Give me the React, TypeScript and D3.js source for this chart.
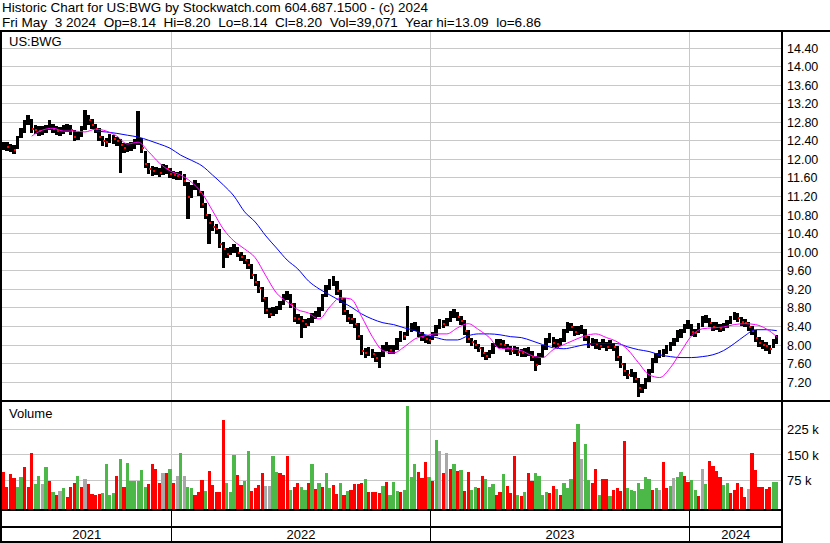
import React, { useEffect, useRef } from 'react';
import * as d3 from 'd3';

// one entry every 5 calendar days from 4 May 2021
const closes = [
  12.28, 12.30, 12.25, 12.25, 12.20, 12.45, 12.58, 12.77, 12.86, 12.64,
  12.62, 12.60, 12.62, 12.66, 12.75, 12.64, 12.60, 12.60, 12.64, 12.66,
  12.62, 12.47, 12.49, 12.60, 12.88, 12.83, 12.73, 12.64, 12.47, 12.38,
  12.36, 12.45, 12.43, 12.38, 12.30, 12.23, 12.25, 12.28, 12.32, 12.40,
  12.23, 11.89, 11.78, 11.74, 11.74, 11.69, 11.80, 11.78, 11.67, 11.65,
  11.63, 11.65, 11.52, 11.18, 11.35, 11.46, 11.29, 11.03, 10.79, 10.62,
  10.53, 10.49, 10.17, 10.06, 9.95, 10.02, 10.08, 9.97, 9.89, 9.82,
  9.72, 9.50, 9.35, 9.22, 9.01, 8.75, 8.66, 8.71, 8.75, 8.86,
  9.01, 9.07, 8.88, 8.58, 8.55, 8.51, 8.45, 8.49, 8.58, 8.64,
  8.71, 9.01, 9.18, 9.33, 9.37, 9.16, 8.98, 8.73, 8.58, 8.55,
  8.45, 8.19, 7.87, 7.82, 7.85, 7.80, 7.72, 7.76, 7.91, 7.97,
  7.89, 7.89, 8.06, 8.21, 8.19, 8.30, 8.38, 8.38, 8.25, 8.17,
  8.12, 8.10, 8.19, 8.34, 8.47, 8.45, 8.49, 8.64, 8.66, 8.60,
  8.51, 8.30, 8.12, 8.06, 8.00, 7.93, 7.82, 7.76, 7.80, 7.95,
  8.04, 8.02, 8.00, 7.93, 7.87, 7.87, 7.85, 7.82, 7.82, 7.85,
  7.74, 7.57, 7.72, 7.89, 8.06, 8.15, 8.04, 8.02, 8.06, 8.25,
  8.40, 8.38, 8.28, 8.30, 8.32, 8.17, 8.02, 8.06, 8.02, 7.97,
  8.02, 7.95, 8.00, 7.95, 7.74, 7.59, 7.42, 7.35, 7.39, 7.26,
  7.07, 7.07, 7.20, 7.39, 7.61, 7.72, 7.80, 7.82, 7.89, 7.97,
  8.06, 8.23, 8.25, 8.36, 8.43, 8.28, 8.25, 8.38, 8.53, 8.55,
  8.47, 8.38, 8.40, 8.36, 8.38, 8.45, 8.53, 8.62, 8.58, 8.49,
  8.47, 8.38, 8.30, 8.15, 8.04, 8.00, 7.97, 7.91, 8.02, 8.20,
];

const highs = [
  12.38, 12.37, 12.36, 12.33, 12.30, 12.50, 12.66, 12.84, 12.95, 12.86,
  12.72, 12.70, 12.71, 12.74, 12.83, 12.76, 12.70, 12.68, 12.73, 12.76,
  12.72, 12.63, 12.58, 12.70, 13.05, 12.95, 12.85, 12.76, 12.66, 12.50,
  12.46, 12.54, 12.52, 12.48, 12.42, 12.34, 12.34, 12.37, 12.42, 13.03,
  12.44, 12.18, 11.92, 11.84, 11.83, 11.80, 11.88, 11.87, 11.80, 11.74,
  11.72, 11.75, 11.68, 11.50, 11.44, 11.55, 11.48, 11.30, 11.05, 10.82,
  10.66, 10.60, 10.50, 10.20, 10.08, 10.10, 10.17, 10.10, 9.99, 9.92,
  9.84, 9.74, 9.52, 9.37, 9.24, 9.03, 8.78, 8.80, 8.84, 8.94,
  9.10, 9.16, 9.08, 8.90, 8.66, 8.61, 8.56, 8.58, 8.67, 8.73,
  8.80, 9.10, 9.28, 9.42, 9.48, 9.38, 9.18, 9.00, 8.75, 8.65,
  8.58, 8.46, 8.20, 7.92, 7.94, 7.90, 7.84, 7.85, 8.00, 8.06,
  8.00, 7.98, 8.15, 8.30, 8.28, 8.83, 8.47, 8.48, 8.40, 8.27,
  8.21, 8.19, 8.28, 8.43, 8.56, 8.54, 8.58, 8.72, 8.77, 8.70,
  8.62, 8.52, 8.32, 8.15, 8.09, 8.02, 7.95, 7.85, 7.89, 8.04,
  8.13, 8.11, 8.09, 8.02, 7.96, 7.96, 7.94, 7.91, 7.92, 7.94,
  7.86, 7.76, 7.81, 7.98, 8.15, 8.24, 8.16, 8.11, 8.15, 8.34,
  8.49, 8.47, 8.40, 8.39, 8.42, 8.33, 8.18, 8.15, 8.11, 8.06,
  8.11, 8.05, 8.09, 8.04, 7.96, 7.76, 7.61, 7.45, 7.48, 7.40,
  7.27, 7.16, 7.29, 7.48, 7.70, 7.81, 7.89, 7.91, 7.98, 8.06,
  8.15, 8.32, 8.34, 8.45, 8.52, 8.44, 8.34, 8.47, 8.62, 8.64,
  8.57, 8.48, 8.49, 8.45, 8.47, 8.54, 8.62, 8.70, 8.67, 8.59,
  8.56, 8.48, 8.40, 8.31, 8.16, 8.09, 8.06, 8.00, 8.11, 8.20,
];

const lows = [
  12.18, 12.20, 12.16, 12.14, 12.10, 12.22, 12.44, 12.56, 12.74, 12.55,
  12.53, 12.50, 12.52, 12.56, 12.62, 12.55, 12.51, 12.50, 12.54, 12.57,
  12.52, 12.38, 12.40, 12.48, 12.62, 12.72, 12.64, 12.55, 12.38, 12.28,
  12.26, 12.34, 12.33, 12.28, 11.69, 12.13, 12.15, 12.18, 12.22, 12.30,
  12.12, 11.80, 11.68, 11.64, 11.65, 11.60, 11.66, 11.68, 11.58, 11.56,
  11.54, 11.55, 11.42, 10.70, 11.15, 11.33, 11.20, 10.94, 10.70, 10.17,
  10.44, 10.38, 10.08, 9.65, 9.86, 9.92, 9.98, 9.88, 9.80, 9.73,
  9.63, 9.42, 9.26, 9.12, 8.92, 8.66, 8.58, 8.61, 8.66, 8.74,
  8.86, 8.96, 8.79, 8.48, 8.45, 8.15, 8.36, 8.40, 8.47, 8.55,
  8.60, 8.72, 9.02, 9.18, 9.27, 9.06, 8.89, 8.64, 8.49, 8.45,
  8.36, 8.10, 7.78, 7.72, 7.75, 7.70, 7.62, 7.50, 7.74, 7.86,
  7.80, 7.79, 7.88, 8.05, 8.09, 8.18, 8.28, 8.29, 8.16, 8.08,
  8.03, 8.01, 8.09, 8.18, 8.33, 8.36, 8.40, 8.48, 8.57, 8.51,
  8.42, 8.21, 8.03, 7.97, 7.91, 7.84, 7.73, 7.67, 7.70, 7.80,
  7.94, 7.93, 7.91, 7.84, 7.78, 7.79, 7.76, 7.73, 7.74, 7.76,
  7.65, 7.44, 7.55, 7.72, 7.89, 8.04, 7.95, 7.93, 7.97, 8.06,
  8.25, 8.29, 8.19, 8.21, 8.23, 8.08, 7.93, 7.97, 7.90, 7.88,
  7.93, 7.86, 7.91, 7.86, 7.65, 7.50, 7.33, 7.26, 7.30, 7.17,
  6.86, 6.95, 7.04, 7.20, 7.39, 7.60, 7.70, 7.73, 7.80, 7.87,
  7.96, 8.06, 8.15, 8.24, 8.33, 8.19, 8.16, 8.25, 8.38, 8.46,
  8.38, 8.29, 8.31, 8.27, 8.29, 8.36, 8.44, 8.52, 8.49, 8.40,
  8.38, 8.29, 8.21, 8.06, 7.95, 7.91, 7.86, 7.80, 7.92, 8.02,
];

// volume in thousands, same dates as the price entries
const volumes = [
  89, 98, 53, 92, 80, 53, 83, 113, 53, 154,
  62, 86, 62, 113, 71, 39, 30, 41, 50, 24,
  53, 65, 86, 53, 77, 62, 33, 30, 33, 36,
  122, 30, 36, 86, 136, 53, 125, 71, 71, 71,
  104, 53, 62, 122, 107, 65, 95, 95, 107, 65,
  86, 154, 86, 53, 50, 30, 39, 74, 41, 101,
  59, 39, 39, 252, 65, 39, 148, 89, 59, 71,
  160, 41, 50, 59, 95, 56, 56, 145, 98, 95,
  89, 145, 44, 53, 65, 53, 44, 65, 122, 47,
  65, 53, 95, 50, 59, 33, 65, 30, 41, 44,
  62, 62, 65, 77, 39, 39, 39, 35, 56, 68,
  30, 68, 41, 39, 44, 293, 83, 122, 98, 80,
  128, 83, 71, 193, 160, 95, 154, 107, 122, 101,
  104, 41, 98, 44, 53, 50, 86, 77, 53, 62,
  30, 39, 92, 56, 36, 145, 30, 27, 39, 95,
  71, 95, 86, 30, 39, 36, 56, 47, 30, 65,
  50, 77, 187, 240, 136, 181, 74, 65, 107, 30,
  77, 77, 27, 44, 50, 41, 190, 50, 44, 41,
  65, 47, 83, 77, 44, 50, 44, 128, 50, 56,
  80, 83, 98, 86, 68, 74, 44, 27, 107, 62,
  131, 116, 101, 83, 59, 65, 36, 44, 65, 53,
  24, 47, 154, 104, 53, 53, 47, 53, 68, 68,
];

// g = up, r = down, n = unchanged
const volumeMoves = (
  'grrrrggrrr' + 'ggngrgrngr' + 'rrgrnrrrrg' + 'gggrgrgggg' +
  'ggrrrrnrgr' + 'ngnggrrrgr' + 'rrrrgggrrg' + 'grrrrnnggr' +
  'rrgrrggrgr' + 'grggrrgrgr' + 'rrrgrrrrgr' + 'gggrggggrr' +
  'rgrgnrnrgr' + 'grrggrrggg' + 'rrgrrrgrgr' + 'rggggrrgrg' +
  'ggrgnggrrg' + 'rrgrrrrggg' + 'ggggrgnrrg' + 'nggrrggrng' +
  'rrrrggrrrr' + 'rnrrrrrrgg'
).split('');

// moving averages, one point every 15 days from 4 May 2021
const maShort = [
  null, null, null, 12.49, 12.62, 12.66, 12.60, 12.60, 12.58, 12.64,
  12.60, 12.49, 12.32, 12.36, 12.15, 11.91, 11.74, 11.65, 11.50, 11.26,
  10.88, 10.49, 10.23, 10.06, 9.87, 9.48, 9.11, 8.92, 8.75, 8.68,
  8.55, 8.81, 9.01, 8.98, 8.60, 8.17, 7.87, 7.82, 7.95, 8.12,
  8.19, 8.23, 8.23, 8.36, 8.45, 8.32, 8.15, 7.91, 7.91, 7.87,
  7.76, 7.72, 7.89, 8.00, 8.10, 8.19, 8.23, 8.15, 8.06, 7.89,
  7.61, 7.35, 7.29, 7.50, 7.85, 8.19, 8.34, 8.36, 8.38, 8.43,
  8.45, 8.43, 8.34, 8.17,
];

const maLong = [
  null, null, null, null, null, null, null, null, null, 12.60,
  12.58, 12.55, 12.51, 12.47, 12.40, 12.32, 12.23, 12.08, 11.97, 11.85,
  11.65, 11.44, 11.20, 10.86, 10.64, 10.34, 10.08, 9.82, 9.63, 9.37,
  9.20, 9.07, 8.94, 8.81, 8.66, 8.55, 8.47, 8.43, 8.36, 8.30,
  8.21, 8.15, 8.10, 8.10, 8.19, 8.23, 8.23, 8.21, 8.17, 8.15,
  8.08, 8.00, 7.93, 7.91, 7.95, 8.00, 8.02, 8.02, 8.02, 7.95,
  7.89, 7.85, 7.78, 7.74, 7.72, 7.72, 7.74, 7.78, 7.87, 8.02,
  8.19, 8.32, 8.32, 8.30,
];

const priceTicks = [14.4, 14.0, 13.6, 13.2, 12.8, 12.4, 12.0, 11.6, 11.2, 10.8,
  10.4, 10.0, 9.6, 9.2, 8.8, 8.4, 8.0, 7.6, 7.2];
const volumeTicks = [225, 150, 75];
const yearLabels = ['2021', '2022', '2023', '2024'];

const titleLine = 'Historic Chart for US:BWG by Stockwatch.com 604.687.1500 - (c) 2024';
const quoteLine = 'Fri May  3 2024  Op=8.14  Hi=8.20  Lo=8.14  Cl=8.20  Vol=39,071  Year hi=13.09  lo=6.86';

export default function App() {
  const chartRef = useRef<HTMLDivElement>(null);

  useEffect(() => {
    if (!chartRef.current) return;
    d3.select(chartRef.current).selectAll('*').remove();

    const width = 830;
    const height = 543;
    const left = 2;
    const right = 782;
    const font = '"Liberation Sans", Arial, sans-serif';
    const grid = '#c8c8c8';

    const svg = d3.select(chartRef.current)
      .append('svg')
      .attr('width', width)
      .attr('height', height)
      .style('display', 'block')
      .style('font-family', font);

    svg.append('rect').attr('width', width).attr('height', height).attr('fill', '#fff');

    const start = new Date(Date.UTC(2021, 4, 4));
    const barDates = closes.map((_, i) => d3.utcDay.offset(start, i * 5));
    const maDates = maShort.map((_, i) => d3.utcDay.offset(start, i * 15));

    const x = d3.scaleUtc()
      .domain([new Date(Date.UTC(2022, 0, 1)), new Date(Date.UTC(2024, 0, 1))])
      .range([171.5, 689.5]);
    const y = d3.scaleLinear().domain([7.2, 14.4]).range([381.7, 47.5]);
    const yv = d3.scaleLinear().domain([0, 225]).range([505, 428.7]);

    const yearStarts = d3.utcYear.range(new Date(Date.UTC(2022, 0, 1)), new Date(Date.UTC(2024, 1, 1)));
    const edges = [left, ...yearStarts.map(d => x(d)), right];

    const defs = svg.append('defs');
    defs.append('clipPath').attr('id', 'price-clip')
      .append('rect').attr('x', left).attr('y', 32).attr('width', right - left).attr('height', 368);
    defs.append('clipPath').attr('id', 'vol-clip')
      .append('rect').attr('x', left).attr('y', 402).attr('width', right - left).attr('height', 107);

    // grid
    const gridG = svg.append('g').attr('shape-rendering', 'crispEdges').attr('stroke', grid);
    gridG.selectAll('line.ph').data(priceTicks).join('line')
      .attr('x1', left).attr('x2', right)
      .attr('y1', d => Math.round(y(d)) + 0.5).attr('y2', d => Math.round(y(d)) + 0.5);
    gridG.selectAll('line.vh').data(volumeTicks).join('line')
      .attr('x1', left).attr('x2', right)
      .attr('y1', d => Math.round(yv(d)) + 0.5).attr('y2', d => Math.round(yv(d)) + 0.5);
    gridG.selectAll('line.yv').data(yearStarts).join('line')
      .attr('x1', d => Math.floor(x(d)) + 0.5).attr('x2', d => Math.floor(x(d)) + 0.5)
      .attr('y1', 32).attr('y2', 509);

    // price bars
    const priceG = svg.append('g').attr('clip-path', 'url(#price-clip)');
    priceG.append('g').attr('shape-rendering', 'crispEdges')
      .selectAll('rect').data(closes).join('rect')
      .attr('x', (_, i) => x(barDates[i]) - 1.7)
      .attr('width', 3.4)
      .attr('y', (_, i) => y(highs[i]))
      .attr('height', (_, i) => Math.max(1, y(lows[i]) - y(highs[i])))
      .attr('fill', '#000');

    priceG.append('g').attr('shape-rendering', 'crispEdges')
      .selectAll('rect').data(closes.map((c, i) => ({ c, i })).filter(d => d.i > 0 && d.c < closes[d.i - 1]))
      .join('rect')
      .attr('x', d => x(barDates[d.i]) + 0.2)
      .attr('y', d => y(d.c) - 1)
      .attr('width', 2)
      .attr('height', 2)
      .attr('fill', '#ff0000');

    const maLine = d3.line<number | null>()
      .defined(d => d != null)
      .x((_, i) => x(maDates[i]))
      .y(d => y(d as number))
      .curve(d3.curveMonotoneX);

    priceG.append('path').attr('d', maLine(maLong)).attr('fill', 'none')
      .attr('stroke', '#0000ff').attr('stroke-width', 1);
    priceG.append('path').attr('d', maLine(maShort)).attr('fill', 'none')
      .attr('stroke', '#ff00ff').attr('stroke-width', 1);

    // volume
    const moveColour: Record<string, string> = { g: '#4cb848', r: '#ff0000', n: '#a8a8a8' };
    svg.append('g').attr('clip-path', 'url(#vol-clip)').attr('shape-rendering', 'crispEdges')
      .selectAll('rect').data(volumes).join('rect')
      .attr('x', (_, i) => x(barDates[i]) - 1.6)
      .attr('width', 3.2)
      .attr('y', d => yv(d))
      .attr('height', d => 509 - yv(d))
      .attr('fill', (_, i) => moveColour[volumeMoves[i]]);

    // frame
    const frame = svg.append('g').attr('stroke', '#000').attr('stroke-width', 2).attr('shape-rendering', 'crispEdges');
    frame.append('line').attr('x1', 0).attr('x2', width).attr('y1', 31).attr('y2', 31);
    frame.append('line').attr('x1', 0).attr('x2', width).attr('y1', 401).attr('y2', 401);
    [510, 527, 542].forEach(yy => {
      frame.append('line').attr('x1', 0).attr('x2', right).attr('y1', yy).attr('y2', yy);
    });
    frame.append('line').attr('x1', 1).attr('x2', 1).attr('y1', 30).attr('y2', height);
    frame.append('line').attr('x1', right).attr('x2', right).attr('y1', 30).attr('y2', height);
    svg.append('g').attr('stroke', '#000').attr('shape-rendering', 'crispEdges')
      .selectAll('line').data(yearStarts).join('line')
      .attr('x1', d => Math.floor(x(d)) + 0.5).attr('x2', d => Math.floor(x(d)) + 0.5)
      .attr('y1', 510).attr('y2', 542);

    // text
    svg.append('text').attr('x', 2).attr('y', 12).attr('font-size', 13.5)
      .attr('textLength', 426).attr('lengthAdjust', 'spacingAndGlyphs').text(titleLine);
    svg.append('text').attr('x', 2).attr('y', 26.5).attr('font-size', 13.5)
      .attr('textLength', 539).attr('lengthAdjust', 'spacingAndGlyphs')
      .style('white-space', 'pre').text(quoteLine);
    svg.append('text').attr('x', 9).attr('y', 46).attr('font-size', 13).text('US:BWG');
    svg.append('text').attr('x', 9).attr('y', 418).attr('font-size', 13).text('Volume');

    svg.append('g').attr('font-size', 12.5).attr('fill', '#000')
      .selectAll('text').data(priceTicks).join('text')
      .attr('x', 787).attr('y', d => y(d) + 1)
      .attr('dominant-baseline', 'central')
      .text(d => d.toFixed(2));

    svg.append('g').attr('font-size', 13).attr('fill', '#000')
      .selectAll('text').data(volumeTicks).join('text')
      .attr('x', 787).attr('y', d => yv(d) + 1)
      .attr('dominant-baseline', 'central')
      .text(d => `${d} k`);

    svg.append('g').attr('font-size', 13).attr('text-anchor', 'middle')
      .selectAll('text').data(yearLabels).join('text')
      .attr('x', (_, i) => (edges[i] + edges[i + 1]) / 2)
      .attr('y', 539)
      .text(d => d);
  }, []);

  return (
    <div ref={chartRef} style={{ position: 'absolute', left: 0, top: 0, width: 830, height: 543 }} />
  );
}
